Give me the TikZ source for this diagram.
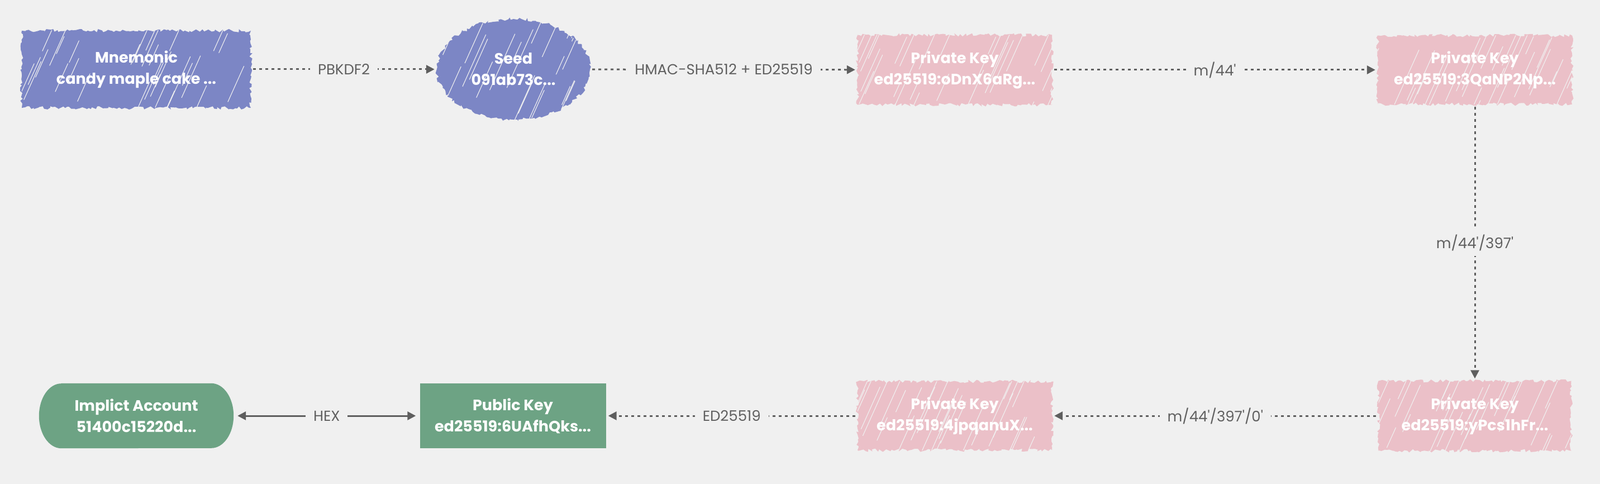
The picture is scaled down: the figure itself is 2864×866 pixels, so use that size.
\documentclass[tikz,border=0pt]{standalone}
\usepackage{fontspec}
\setmainfont{Poppins}[Ligatures=TeXOff]
\usetikzlibrary{arrows.meta,shapes.geometric,decorations.pathmorphing,backgrounds,calc}
\definecolor{bgc}{HTML}{F0F0F0}
\definecolor{bluec}{HTML}{7C86C5}
\definecolor{pinkc}{HTML}{EBC0C8}
\definecolor{greenc}{HTML}{6DA384}
\definecolor{arrowc}{HTML}{5E5E5E}
\definecolor{labelc}{HTML}{606060}
\pgfdeclarelayer{backzero}
\pgfsetlayers{backzero,background,main}
\tikzset{
  boxtext/.style={text=white, align=center, inner sep=0pt,
    font=\bfseries\fontsize{27}{38}\selectfont},
  flow/.style={draw=arrowc, line width=3pt, dash pattern=on 5pt off 6pt,
    -{Triangle[length=15pt,width=15pt]}, shorten >=4pt, shorten <=4pt},
  solidflow/.style={draw=arrowc, line width=3pt,
    {Triangle[length=15pt,width=15pt]}-{Triangle[length=15pt,width=15pt]},
    shorten >=7pt, shorten <=7pt},
  elabel/.style={fill=bgc, text=labelc, inner xsep=14pt, inner ysep=4pt,
    font=\fontsize{26}{30}\selectfont}
}
\newcommand\sketchrect[5]{%
\begin{pgfonlayer}{background}
\begin{scope}[shift={(#1.center)}]
\fill[#4, decorate, decoration={random steps,segment length=4pt,amplitude=3pt}]
  (-#2,-#3) rectangle (#2,#3);
\begin{scope}
\clip (-#2,-#3) rectangle (#2,#3);
\pgfmathsetseed{#5}
\foreach \k in {1,...,34}{
  \pgfmathsetmacro\ax{-#2-60+rnd*(2*#2+60)}
  \pgfmathsetmacro\ay{-#3+rnd*(2*#3)+30}
  \pgfmathsetmacro\al{25+rnd*80}
  \draw[bgc, line width=1.1pt, line cap=round] (\ax,\ay) -- ++(0.45*\al,-\al);
}
\end{scope}
\end{scope}
\end{pgfonlayer}}
\newcommand\sketchellipse[5]{%
\begin{pgfonlayer}{background}
\begin{scope}[shift={(#1.center)}]
\fill[#4, decorate, decoration={random steps,segment length=4pt,amplitude=3pt}]
  (0,0) ellipse[x radius=#2pt, y radius=#3pt];
\begin{scope}
\clip (0,0) ellipse[x radius=#2pt, y radius=#3pt];
\pgfmathsetseed{#5}
\foreach \k in {1,...,30}{
  \pgfmathsetmacro\ax{-#2-60+rnd*(2*#2+60)}
  \pgfmathsetmacro\ay{-#3+rnd*(2*#3)+30}
  \pgfmathsetmacro\al{25+rnd*80}
  \draw[bgc, line width=1.1pt, line cap=round] (\ax,\ay) -- ++(0.45*\al,-\al);
}
\end{scope}
\end{scope}
\end{pgfonlayer}}
\begin{document}
\begin{tikzpicture}[x=1pt,y=-1pt]
\begin{pgfonlayer}{backzero}
\fill[bgc] (0,0) rectangle (2864,866);
\end{pgfonlayer}
\useasboundingbox (0,0) rectangle (2864,866);

% nodes
\node[boxtext, minimum width=410pt, minimum height=138pt] (mn) at (244,124) {Mnemonic\\candy maple cake ...};
\node[boxtext, ellipse, minimum width=274pt, minimum height=180pt] (seed) at (919,124) {Seed\\091ab73c...};
\node[boxtext, minimum width=348pt, minimum height=125pt] (pk1) at (1709,125) {Private Key\\ed25519:oDnX6aRg...};
\node[boxtext, minimum width=348pt, minimum height=123pt] (pk2) at (2640,125) {Private Key\\ed25519:3QaNP2Np...};
\node[boxtext, minimum width=345pt, minimum height=125pt] (pk4) at (2640,744) {Private Key\\ed25519:yPcs1hFr...};
\node[boxtext, minimum width=348pt, minimum height=123pt] (pk3) at (1709,744) {Private Key\\ed25519:4jpqanuX...};
\node[boxtext, fill=greenc, minimum width=333pt, minimum height=116pt] (pub) at (918,744) {Public Key\\ed25519:6UAfhQks...};
\node[boxtext, minimum width=348pt, minimum height=116pt] (acct) at (244,744) {Implict Account\\51400c15220d...};

% sketchy fills
\sketchrect{mn}{205}{69}{bluec}{11}
\sketchellipse{seed}{137}{90}{bluec}{12}
\sketchrect{pk1}{174}{62.5}{pinkc}{13}
\sketchrect{pk2}{174}{61.5}{pinkc}{14}
\sketchrect{pk4}{172.5}{62.5}{pinkc}{15}
\sketchrect{pk3}{174}{61.5}{pinkc}{16}
\begin{pgfonlayer}{background}
\fill[greenc] ($(acct.north west)+(40,0)$) -- ($(acct.north east)+(-40,0)$)
  arc[start angle=90,end angle=-90,x radius=40pt,y radius=58pt]
  -- ($(acct.south west)+(40,0)$)
  arc[start angle=270,end angle=90,x radius=40pt,y radius=58pt] -- cycle;
\end{pgfonlayer}

% connectors
\draw[flow] (mn) -- node[elabel] {PBKDF2} (seed);
\draw[flow] (seed) -- node[elabel] {HMAC-SHA512 + ED25519} (pk1);
\draw[flow] (pk1) -- node[elabel] {m/44'} (pk2);
\draw[flow] (pk2) -- node[elabel, inner xsep=4pt, inner ysep=10pt] {m/44'/397'} (pk4);
\draw[flow] (pk4) -- node[elabel] {m/44'/397'/0'} (pk3);
\draw[flow] (pk3) -- node[elabel] {ED25519} (pub);
\draw[solidflow] (acct) -- node[elabel] {HEX} (pub);
\end{tikzpicture}
\end{document}
